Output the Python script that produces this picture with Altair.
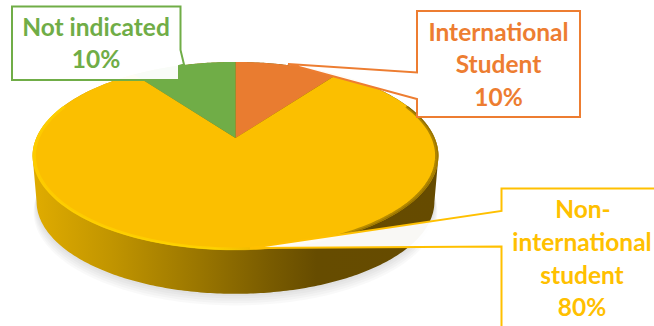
import numpy as np
import pandas as pd
import altair as alt

# Enrolment shares, listed clockwise from twelve o'clock
categories = ["International Student", "Non-international student", "Not indicated"]
shares = [10, 80, 10]
slice_colors = ["#E97C30", "#FBBF00", "#70AD47"]

ORANGE = "#ED7D31"
YELLOW = "#FFC000"
GREEN = "#70AD47"
FONT = "Lato"
FONT_SIZE = 24.5

W, H = 654, 326

# Tilted-disc projection of the pie
CX, CY = 235.5, 138.0
A, B, K = 199.2, 90.6, 0.1915
WALL_DROP, WALL_SCALE = 46, 0.98


def project(theta, radius=1.0, dy=0.0, scale=1.0):
    u, v = radius * np.sin(theta), radius * np.cos(theta)
    w = 1 + K * v
    return CX + scale * A * u / w, CY + dy - scale * B * v / w


def frame(xs, ys):
    return pd.DataFrame({"px": xs, "py": ys, "i": np.arange(len(xs))})


def ring(dy=0.0, scale=1.0, n=240):
    t = np.linspace(0, 2 * np.pi, n, endpoint=False)
    return frame(*project(t, dy=dy, scale=scale))


def body():
    # Outline of the whole drum: back half of the top edge, front half of the lower edge
    side = np.arccos(-K)
    back = np.linspace(-side, side, 200)
    front = np.linspace(side, 2 * np.pi - side, 200)
    x0, y0 = project(back)
    x1, y1 = project(front, dy=WALL_DROP, scale=WALL_SCALE)
    return frame(np.r_[x0, x1], np.r_[y0, y1])


def wedge(start, share, n=120):
    t = np.linspace(start, start + share / 100 * 2 * np.pi, n)
    xs, ys = project(t)
    return frame(np.r_[CX, xs], np.r_[CY, ys])


def arc(t0, t1, radius=1.0, n=160):
    return frame(*project(np.radians(np.linspace(t0, t1, n)), radius=radius))


x_enc = alt.X("px:Q", axis=None, scale=alt.Scale(domain=[0, W], nice=False, zero=False))
y_enc = alt.Y("py:Q", axis=None, scale=alt.Scale(domain=[0, H], nice=False, zero=False, reverse=True))


def filled(df, **mark):
    return alt.Chart(df).mark_line(interpolate="linear-closed", clip=True, **mark).encode(
        x=x_enc, y=y_enc, order=alt.Order("i:Q")
    )


def stroked(df, **mark):
    return alt.Chart(df).mark_line(clip=True, **mark).encode(
        x=x_enc, y=y_enc, order=alt.Order("i:Q")
    )


def horizontal(stops):
    return alt.Gradient(
        gradient="linear", x1=0, x2=1, y1=0, y2=0,
        stops=[alt.GradientStop(offset=o, color=c) for o, c in stops],
    )


layers = []

# Soft ground shadow under the drum
for step in range(1, 6):
    layers.append(filled(ring(dy=WALL_DROP + step * 2, scale=WALL_SCALE + step * 0.003),
                         fill="#000000", fillOpacity=0.022, strokeOpacity=0))

# Side wall
wall = horizontal([(0, "#E0AC00"), (0.2, "#C09400"), (0.41, "#9A7600"),
                   (0.58, "#7A5C00"), (0.7, "#664C00"), (1, "#664B00")])
layers.append(filled(body(), fill=wall, strokeOpacity=0))

# Top face, one wedge per category
start = 0.0
for share, color in zip(shares, slice_colors):
    layers.append(filled(wedge(start, share), fill=color, strokeOpacity=0))
    start += share / 100 * 2 * np.pi

# Bevel along the front rim: bright on the left, shaded on the right
rim = horizontal([(0, "#FFD400"), (0.45, "#FFDC00"), (0.56, "#E8B000"),
                  (0.72, "#8A6A00"), (1, "#6E5300")])
layers.append(stroked(arc(68, 292, radius=0.99), stroke=rim, strokeWidth=2.5, strokeOpacity=0.55))
layers.append(stroked(arc(68, 292, radius=0.997), stroke=rim, strokeWidth=1.2, strokeOpacity=0.6))

# Callout boxes with their pointers
green_box = frame([12, 180.5, 180.5, 184, 179, 179, 12],
                  [6.5, 6.5, 50, 64.5, 66, 80, 80])
orange_box = frame([417, 580, 580, 417, 417, 288, 417],
                   [11, 11, 117, 117, 99, 64, 72.5])
yellow_box = frame([501.5, 670, 670, 501.5, 501.5, 250, 501.5],
                   [188.5, 188.5, 340, 340, 246.5, 248, 211])
for box, color in [(green_box, GREEN), (orange_box, ORANGE), (yellow_box, YELLOW)]:
    layers.append(filled(box, fill="#FFFFFF", fillOpacity=0.96, stroke=color, strokeWidth=2))

# Callout text
labels = [
    ("Not indicated", 96, 36, GREEN),
    (f"{shares[2]}%", 96, 68, GREEN),
    ("International", 498.5, 41, ORANGE),
    ("Student", 498.5, 73, ORANGE),
    (f"{shares[0]}%", 498.5, 106, ORANGE),
    ("Non-", 583, 218, YELLOW),
    ("international", 582, 251, YELLOW),
    ("student", 582, 284, YELLOW),
    (f"{shares[1]}%", 582, 316, YELLOW),
]
label_df = pd.DataFrame(labels, columns=["text", "px", "py", "color"])
layers.append(
    alt.Chart(label_df)
    .mark_text(font=FONT, fontSize=FONT_SIZE, fontWeight="bold", align="center", baseline="alphabetic")
    .encode(x=x_enc, y=y_enc, text="text:N", color=alt.Color("color:N", scale=None, legend=None))
)

chart = (
    alt.layer(*layers)
    .properties(width=W, height=H, padding=0, autosize=alt.AutoSizeParams(type="none"))
    .configure_view(stroke=None)
)

chart.save("out.html", embed_options={"renderer": "svg", "actions": False})
